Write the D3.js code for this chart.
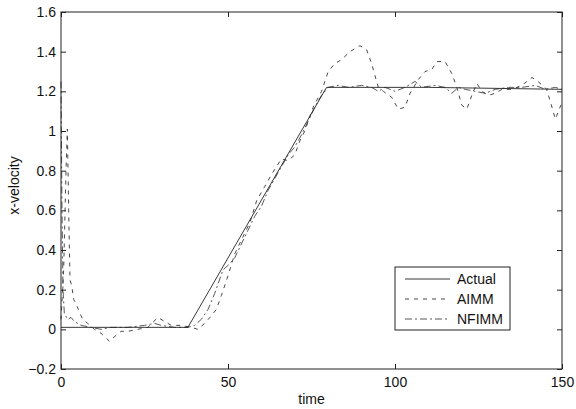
<!DOCTYPE html>
<html>
<head>
<meta charset="utf-8">
<script src="https://cdn.jsdelivr.net/npm/d3@7"></script>
<style>
  body { margin: 0; background: #fff; }
  svg { display: block; }
  text { font-family: "Liberation Sans", Arial, sans-serif; fill: #111; }
</style>
</head>
<body>
<svg id="chart" width="576" height="409"></svg>
<script>
// ---- data ----
const xTicks = [0, 50, 100, 150];
const yTicks = [-0.2, 0, 0.2, 0.4, 0.6, 0.8, 1, 1.2, 1.4, 1.6];
const seriesNames = ["Actual", "AIMM", "NFIMM"];

const actual = [[0, 0.01], [38, 0.01], [79.5, 1.22], [110, 1.22], [150, 1.21]];

const aimm = [
  [0, 0.05], [0.8, 0.3], [1.5, 0.8], [1.9, 1.01], [2.3, 0.6], [2.7, 0.25], [3.2, 0.22],
  [3.8, 0.15], [4.5, 0.13], [5.2, 0.10], [6.5, 0.05], [8, 0.03], [10, 0.0], [12, -0.02],
  [14.5, -0.06], [16.5, -0.03], [18, -0.01], [20, -0.01], [23, 0.0], [26, 0.01], [29, 0.06],
  [31, 0.04], [33, 0.02], [36, 0.02], [39, 0.01], [41, 0.0], [43, 0.03], [44.6, 0.06],
  [46.5, 0.10], [48, 0.17], [50, 0.27], [52, 0.38], [54, 0.45], [56.6, 0.54], [58.6, 0.65],
  [61, 0.72], [63, 0.78], [66, 0.86], [68, 0.85], [70, 0.88], [71.5, 0.95], [73, 1.0],
  [75.5, 1.12], [78, 1.2], [80, 1.30], [82, 1.34], [84, 1.36], [86.5, 1.40], [89.5, 1.43],
  [91.5, 1.41], [93, 1.34], [94, 1.28], [95, 1.22], [96.5, 1.2], [99, 1.17], [101, 1.11],
  [103, 1.12], [104.5, 1.19], [107, 1.26], [109, 1.30], [111, 1.31], [112.5, 1.35],
  [115, 1.35], [117, 1.29], [118.5, 1.22], [120, 1.13], [121.5, 1.11], [123, 1.18],
  [124.5, 1.24], [126, 1.2], [128, 1.18], [130, 1.19], [132, 1.21], [135, 1.21], [138, 1.23],
  [141, 1.27], [142.8, 1.25], [145.4, 1.21], [147, 1.12], [148, 1.06], [149.4, 1.12], [150, 1.14]
];

const nfimm = [
  [0, 1.25], [0.3, 0.6], [0.6, 0.2], [1, 0.08], [2, 0.05], [3, 0.06], [4, 0.04], [6, 0.02],
  [9, 0.01], [12, 0.0], [15, 0.01], [20, 0.01], [25, 0.02], [28, 0.03], [30, 0.02], [34, 0.01],
  [38, 0.01], [40, 0.02], [42, 0.05], [44, 0.1], [46, 0.18], [48.5, 0.30], [50.5, 0.33],
  [52, 0.36], [54, 0.43], [56, 0.50], [58, 0.57], [60, 0.62], [62, 0.70], [64, 0.76],
  [66, 0.82], [68, 0.88], [70, 0.92], [72, 0.98], [74, 1.05], [76, 1.12], [78, 1.18],
  [80, 1.22], [83, 1.23], [86, 1.22], [90, 1.23], [93, 1.22], [95, 1.2], [97, 1.22],
  [100, 1.2], [103, 1.22], [106, 1.25], [108, 1.22], [112, 1.23], [115, 1.22], [117, 1.19],
  [119, 1.22], [121, 1.21], [124, 1.2], [127, 1.19], [130, 1.21], [134, 1.22], [138, 1.22],
  [142, 1.23], [145, 1.21], [148, 1.22], [150, 1.21]
];

// ---- layout ----
const svg = d3.select("#chart");
const L = 61, T = 12, R = 562, B = 369;
const FS = 14;
const x = d3.scaleLinear().domain([0, 150]).range([L, R]);
const y = d3.scaleLinear().domain([-0.2, 1.6]).range([B, T]);

const styles = {
  Actual: { dash: null, color: "#222", width: 0.9 },
  AIMM: { dash: "4,5", color: "#333", width: 0.9 },
  NFIMM: { dash: "7,3,2,3", color: "#444", width: 0.9 }
};
const dataBy = { Actual: actual, AIMM: aimm, NFIMM: nfimm };

const line = d3.line().x(d => x(d[0])).y(d => y(d[1]));

const plot = svg.append("g");
["NFIMM", "AIMM", "Actual"].forEach(n => {
  plot.append("path")
    .datum(dataBy[n])
    .attr("d", line)
    .attr("fill", "none")
    .attr("stroke", styles[n].color)
    .attr("stroke-width", styles[n].width)
    .attr("stroke-dasharray", styles[n].dash);
});

// axes (MATLAB-style inward ticks, boxed)
const fmt = d => (d === 0 ? "0" : d3.format("")(+d.toFixed(1)));
const ax = svg.append("g").attr("font-size", FS);

const xb = ax.append("g").attr("transform", `translate(0,${B})`)
  .call(d3.axisBottom(x).tickValues(xTicks).tickSize(-5).tickPadding(8).tickFormat(d3.format("d")));
const xt = ax.append("g").attr("transform", `translate(0,${T})`)
  .call(d3.axisTop(x).tickValues(xTicks).tickSize(-5).tickFormat(""));
const yl = ax.append("g").attr("transform", `translate(${L},0)`)
  .call(d3.axisLeft(y).tickValues(yTicks).tickSize(-5).tickPadding(5).tickFormat(fmt));
const yr = ax.append("g").attr("transform", `translate(${R},0)`)
  .call(d3.axisRight(y).tickValues(yTicks).tickSize(-5).tickFormat(""));

[xb, xt, yl, yr].forEach(g => {
  g.select(".domain").remove();
  g.selectAll(".tick line").attr("stroke", "#222").attr("stroke-width", 1);
  g.selectAll(".tick text").attr("fill", "#111").attr("font-family", "Liberation Sans, Arial, sans-serif").attr("font-size", FS);
});

svg.append("rect").attr("x", L).attr("y", T).attr("width", R - L).attr("height", B - T)
  .attr("fill", "none").attr("stroke", "#222").attr("stroke-width", 1);

// axis titles
svg.append("text").attr("x", (L + R) / 2).attr("y", 404).attr("text-anchor", "middle")
  .attr("font-size", FS).text("time");
svg.append("text").attr("transform", `translate(19,${(T + B) / 2 - 5}) rotate(-90)`)
  .attr("text-anchor", "middle").attr("font-size", FS).text("x-velocity");

// legend
const lg = svg.append("g");
lg.append("rect").attr("x", 395).attr("y", 267).attr("width", 115).attr("height", 63)
  .attr("fill", "#fff").attr("stroke", "#222").attr("stroke-width", 1);
const ly = [279, 299, 319];
seriesNames.forEach((n, i) => {
  lg.append("line").attr("x1", 405).attr("x2", 450).attr("y1", ly[i]).attr("y2", ly[i])
    .attr("stroke", styles[n].color).attr("stroke-width", styles[n].width)
    .attr("stroke-dasharray", styles[n].dash);
  lg.append("text").attr("x", 457).attr("y", ly[i] + 5).attr("font-size", FS).text(n);
});
</script>
</body>
</html>
